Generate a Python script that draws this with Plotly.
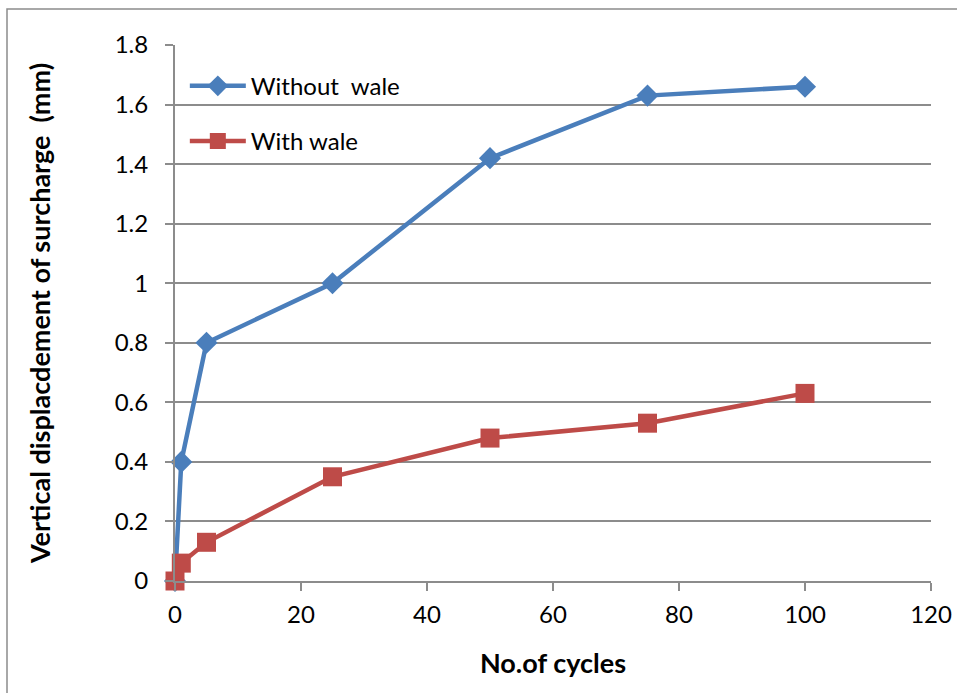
import plotly.graph_objects as go

cycles = [0, 1, 5, 25, 50, 75, 100]
without_wale = [0, 0.4, 0.8, 1.0, 1.42, 1.63, 1.66]
with_wale = [0, 0.06, 0.13, 0.35, 0.48, 0.53, 0.63]

x_ticks = [0, 20, 40, 60, 80, 100, 120]
y_ticks = [0, 0.2, 0.4, 0.6, 0.8, 1, 1.2, 1.4, 1.6, 1.8]
y_tick_labels = ["0", "0.2", "0.4", "0.6", "0.8", "1", "1.2", "1.4", "1.6", "1.8"]

FONT = "Lato"
BLUE = "#4A7EBB"
RED = "#BE4B48"
GRID = "#8C8C8C"

fig = go.Figure()
fig.add_trace(go.Scatter(
    x=cycles, y=without_wale, mode="lines+markers", name="Without  wale",
    line=dict(color=BLUE, width=4.5),
    marker=dict(symbol="diamond", size=17, color=BLUE),
    legendgroup="a", cliponaxis=False,
))
fig.add_trace(go.Scatter(
    x=cycles, y=with_wale, mode="lines+markers", name="With wale",
    line=dict(color=RED, width=4.5),
    marker=dict(symbol="square", size=19, color=RED),
    legendgroup="b", cliponaxis=False,
))

L, R, T, B = 175, 26, 45, 112
W, H = 957, 693
pw, ph = W - L - R, H - T - B

fig.update_layout(
    width=W, height=H,
    margin=dict(l=L, r=R, t=T, b=B, autoexpand=False),
    paper_bgcolor="white", plot_bgcolor="white",
    font=dict(family=FONT, size=24, color="black"),
    showlegend=True,
    legend=dict(
        x=0.013, y=0.965, xanchor="left", yanchor="top",
        bgcolor="rgba(0,0,0,0)", font=dict(size=24, family=FONT),
        itemwidth=56, tracegroupgap=21, traceorder="grouped",
    ),
    xaxis=dict(
        range=[0, 120], tickvals=x_ticks, showgrid=False, zeroline=False,
        showline=True, linecolor=GRID, linewidth=2, automargin=False,
        ticks="outside", ticklen=8, tickcolor=GRID, tickwidth=2,
        ticklabelstandoff=3,
        tickfont=dict(size=24, family=FONT),
        title=dict(text="<b>No.of cycles</b>", font=dict(size=27, family=FONT), standoff=27),
    ),
    yaxis=dict(
        range=[0, 1.8], tickvals=y_ticks, ticktext=y_tick_labels,
        showgrid=True, gridcolor=GRID, gridwidth=1.5, zeroline=False,
        showline=True, linecolor=GRID, linewidth=2, automargin=False,
        ticks="outside", ticklen=8, tickcolor=GRID, tickwidth=2,
        ticklabelstandoff=12,
        tickfont=dict(size=24, family=FONT),
        title=dict(text="<b>Vertical displacdement of surcharge  (mm)</b>",
                   font=dict(size=27, family=FONT), standoff=56),
    ),
    shapes=[dict(
        type="rect", xref="paper", yref="paper",
        x0=(7 - L) / pw, x1=1.2, y0=-0.4, y1=(H - B - 9) / ph,
        line=dict(color="#8C8C8C", width=1.5), fillcolor="rgba(0,0,0,0)",
        layer="below",
    )],
)

fig.write_html("out.html")
